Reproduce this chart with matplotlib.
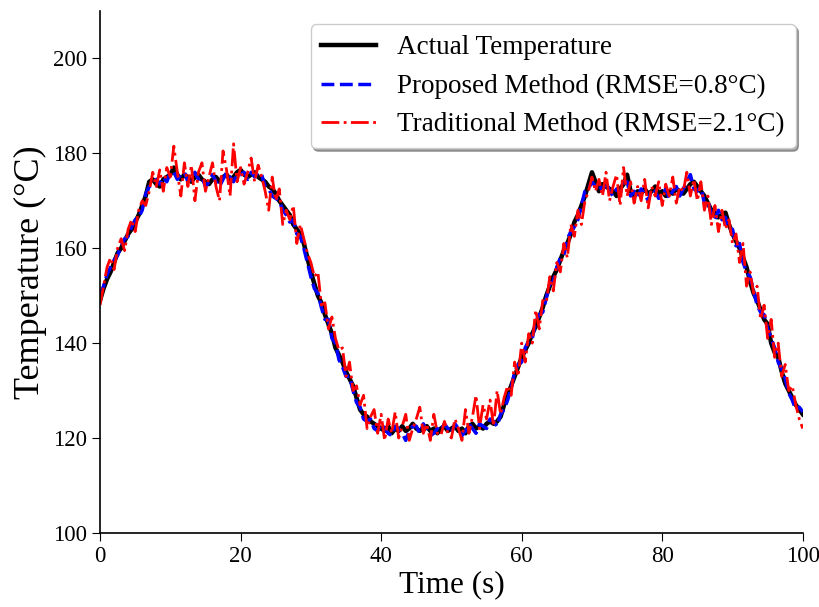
import numpy as np
import matplotlib
matplotlib.use("Agg")
import matplotlib.pyplot as plt

plt.rcParams['font.family'] = ['Liberation Serif', 'DejaVu Serif']

# time axis, 0.5 s steps
time_s = np.linspace(0, 100, 201)

actual_temp = [
    149, 151.5, 153.5, 155, 157, 159, 160, 161.5, 163, 164,
    165.5, 167, 169, 171, 174, 174.5, 173.5, 173, 174.5, 175,
    175.5, 177, 175.5, 174.5, 175.5, 175, 174, 175, 175.5, 174.5,
    174, 173.5, 174.5, 175, 174, 175, 175.5, 174.5, 175, 176,
    176.5, 175.5, 175, 175.5, 176, 175, 174.5, 174, 173, 172.5,
    171.5, 170, 169, 168, 167, 165, 164, 163, 161, 158,
    155, 152.5, 150, 148.5, 146, 144, 142, 139, 137.5, 136,
    134, 132.5, 131, 128.5, 126, 125, 124.5, 123.5, 123, 122.5,
    122, 121.5, 122.5, 121, 122, 121.5, 122.5, 121.5, 122, 123,
    122, 121.5, 122, 122.5, 121.5, 122, 121, 122, 122.5, 121.5,
    122, 122.5, 121.5, 122, 121, 122.5, 123, 122, 122.5, 122,
    123, 123.5, 123, 123.5, 124.5, 127, 129, 131, 133, 135,
    137, 138.5, 140, 142, 143.5, 145.5, 147.5, 150, 152, 154,
    155.5, 157.5, 159.5, 161, 163, 165.5, 167, 169, 171, 173.5,
    176, 174, 172, 173.5, 173, 172.5, 172, 171, 172.5, 173.5,
    175.5, 172, 171, 172, 171.5, 172.5, 171.5, 172, 173, 171.5,
    172, 171, 172, 171.5, 172.5, 172, 171.5, 172.5, 173.5, 174,
    173, 172, 171, 169.5, 168, 167.5, 166.5, 167, 167.5, 165,
    163, 161.5, 160, 158, 156, 153, 150.5, 149, 147, 145,
    144, 140, 138, 137, 134, 131.5, 130, 128.5, 127, 126,
    125,
]

proposed_temp = [
    150, 152, 154.5, 156, 157.5, 158.5, 160.5, 162, 162.5, 164.5,
    166, 166.5, 168, 171.5, 173, 173.5, 174.5, 173.5, 175, 174,
    176, 176, 174.5, 175.5, 176, 174, 174.5, 176, 174.5, 175,
    173, 174, 175.5, 174, 173, 174.5, 176, 175, 174, 175.5,
    175.5, 176, 174.5, 176, 175, 176, 175.5, 173, 172.5, 171,
    170.5, 170, 168, 167, 165.5, 166, 163, 162.5, 160, 157,
    154, 151.5, 150.5, 147.5, 145, 145, 141, 140, 136.5, 135,
    133, 133, 130, 127.5, 126.5, 124, 123.5, 124, 122, 121.5,
    123, 122, 121, 120.5, 122.5, 122, 121, 119.5, 121.5, 122.5,
    122.5, 121, 123, 121.5, 120.5, 121, 122, 121.5, 123, 122,
    121, 123, 122, 120.5, 121.5, 123, 122, 121, 123, 122.5,
    122, 124, 123.5, 122.5, 125, 126, 128, 130.5, 134, 135.5,
    136, 139, 140.5, 141, 144.5, 146, 146.5, 149.5, 152.5, 153,
    156, 158, 158.5, 162, 163.5, 164.5, 166, 169, 172, 172.5,
    174, 173, 173.5, 172, 174, 172, 171, 172.5, 171.5, 174,
    174, 171, 172, 170.5, 172.5, 171.5, 170, 172.5, 172, 170.5,
    171, 172.5, 170.5, 172, 173, 171, 172.5, 174, 175.5, 172.5,
    172, 173, 169.5, 170, 167, 166, 168, 166, 166.5, 164,
    164, 160.5, 161, 157, 155, 154, 151, 148, 146.5, 146,
    143, 141, 139, 136, 134.5, 132.5, 129.5, 128, 126, 126.5,
    125.5,
]

traditional_temp = [
    148, 152, 156, 158, 155.5, 160, 162, 159.5, 164, 166,
    163.5, 168, 170, 169, 172, 176, 173, 176.5, 172, 177,
    175, 181.5, 176, 171, 178, 173, 177.5, 170, 176, 178,
    172, 175, 178, 173, 170, 180.5, 176.5, 171, 182, 174,
    177, 173.5, 176, 179, 174, 177.5, 175, 172, 168, 175,
    170, 172.5, 165, 168, 166, 169, 161, 165, 162, 159,
    157, 154, 155, 148, 148.5, 143, 145.5, 141, 138.5, 139,
    133, 136, 130, 131, 127, 129, 122, 124.5, 126, 121,
    125, 119.5, 124, 121, 125.5, 120, 122.5, 125, 119.5, 122,
    124, 126.5, 121, 123, 119.5, 125, 121, 120.5, 123.5, 121,
    120, 124, 122, 119.5, 126, 121, 124.5, 129, 122, 127,
    124, 128, 122.5, 130, 125, 128.5, 131, 129, 136, 133,
    140, 136, 142, 140, 147, 143, 149, 148.5, 154, 151,
    157, 155, 161, 158, 165, 162.5, 168, 165, 170, 172,
    175, 172, 174.5, 171, 176, 170, 173, 175.5, 169, 177,
    171, 174, 169.5, 173, 170, 174.5, 168.5, 173, 171, 174,
    169, 173.5, 171, 175, 169.5, 173, 172, 176, 171, 174.5,
    170, 174, 168, 171, 165, 169, 163.5, 168, 164, 166,
    161, 163, 157, 161, 152, 155, 150.5, 152, 145, 148,
    141, 145, 137, 140, 133, 135.5, 130, 131, 127, 124,
    122,
]

fig = plt.figure(figsize=(8.2, 6.07), dpi=100)
ax = fig.add_axes([0.122, 0.122, 0.857, 0.86])

ax.plot(time_s, actual_temp, color="black", lw=3.2, label="Actual Temperature")
ax.plot(time_s, proposed_temp, color="blue", lw=2.5, ls="--", label="Proposed Method (RMSE=0.8°C)")
ax.plot(time_s, traditional_temp, color="red", lw=2, ls="-.", label="Traditional Method (RMSE=2.1°C)")

ax.set_xlim(0, 100)
ax.set_ylim(100, 210)
ax.set_yticks([100, 120, 140, 160, 180, 200])
ax.set_xticks([0, 20, 40, 60, 80, 100])
ax.tick_params(labelsize=16.5, length=6)
ax.spines["top"].set_visible(False)
ax.spines["right"].set_visible(False)
ax.spines["left"].set_linewidth(1.2)
ax.spines["bottom"].set_linewidth(1.2)

ax.set_xlabel("Time (s)", fontsize=22.5, labelpad=2)
ax.set_ylabel("Temperature (°C)", fontsize=26, labelpad=4)

ax.legend(loc="upper right", fontsize=19.5, shadow=True, fancybox=True,
          framealpha=1, edgecolor="#cccccc", bbox_to_anchor=(1.009, 1.0),
          handlelength=2.0)

fig.savefig("out.png", dpi=100)
